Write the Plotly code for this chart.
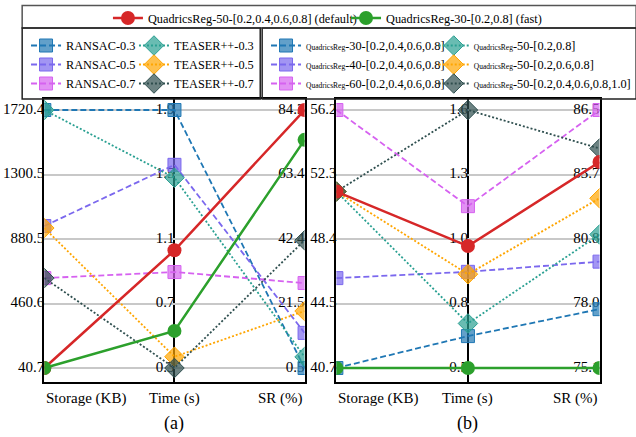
import plotly.graph_objects as go

W, H = 636, 437
FONT = "'Liberation Serif', 'Times New Roman', 'DejaVu Serif', serif"

axis_names = ["Storage (KB)", "Time (s)", "SR (%)"]

# ---- panel (a) tick labels (5 evenly spaced per axis) ----
a_storage_ticks = ["40.7", "460.6", "880.5", "1300.5", "1720.4"]
a_time_ticks = ["0.3", "0.7", "1.1", "1.5", "1.9"]
a_sr_ticks = ["0.5", "21.5", "42.4", "63.4", "84.3"]

# ---- panel (b) tick labels ----
b_storage_ticks = ["40.7", "44.5", "48.4", "52.3", "56.2"]
b_time_ticks = ["0.5", "0.8", "1.0", "1.3", "1.6"]
b_sr_ticks = ["75.1", "78.0", "80.8", "83.7", "86.5"]

# ---- panel (a) series: [Storage, Time, SR] ----
ransac_03 = [1720.4, 1.9, 0.5]
ransac_05 = [965.0, 1.56, 11.9]
ransac_07 = [626.0, 0.895, 28.1]
teaser_03 = [1720.4, 1.48, 4.1]
teaser_05 = [952.0, 0.37, 19.0]
teaser_07 = [626.0, 0.3, 42.0]
qr_default_a = [40.7, 1.03, 84.3]
qr_fast_a = [40.7, 0.53, 74.6]

# ---- panel (b) series ----
qr30 = [40.7, 0.636, 77.7]
qr40 = [46.1, 0.91, 79.8]
qr60 = [56.2, 1.19, 86.5]
qr50_28 = [51.3, 0.69, 81.0]
qr50_268 = [51.3, 0.90, 82.6]
qr50_all = [51.3, 1.6, 84.8]
qr_default_b = [51.3, 1.02, 84.2]
qr_fast_b = [40.7, 0.5, 75.1]

a_ticks = [a_storage_ticks, a_time_ticks, a_sr_ticks]
b_ticks = [b_storage_ticks, b_time_ticks, b_sr_ticks]

BLUE = "31,119,180"
PURPLE = "123,104,238"
MAGENTA = "214,98,240"
TEAL = "42,160,146"
ORANGE = "255,165,0"
SLATE = "47,79,79"
RED = "#d62728"
GREEN = "#2ca02c"

DASH = "6px,3px"
DOT = "2px,2px"


def norm(vals, ticks):
    out = []
    for v, t in zip(vals, ticks):
        lo, hi = float(t[0]), float(t[-1])
        out.append((v - lo) / (hi - lo))
    return out


fig = go.Figure()

# axis tick labels as text (drawn beneath the data marks)
for xa, ya, ticks in [("x", "y", a_ticks), ("x2", "y2", b_ticks)]:
    xs, ys, ts = [], [], []
    for i, tl in enumerate(ticks):
        n = len(tl)
        for j, t in enumerate(tl):
            xs.append(i)
            ys.append(j / (n - 1))
            ts.append(t)
    fig.add_trace(go.Scatter(x=xs, y=ys, text=ts, mode="text", textposition="middle left",
                             textfont=dict(family=FONT, size=15, color="black"),
                             xaxis=xa, yaxis=ya, showlegend=False, cliponaxis=False,
                             hoverinfo="skip"))


def add(vals, ticks, name, rgb, dash, symbol, size, xa, ya, legend, showlegend, rank, width=1.8):
    fig.add_trace(go.Scatter(
        x=[0, 1, 2], y=norm(vals, ticks), mode="lines+markers", name=name,
        line=dict(color=f"rgb({rgb})", width=width, dash=dash),
        marker=dict(symbol=symbol, size=size, color=f"rgba({rgb},0.7)",
                    line=dict(color=f"rgb({rgb})", width=1)),
        xaxis=xa, yaxis=ya, legend=legend, showlegend=showlegend,
        legendrank=rank, cliponaxis=True, hoverinfo="skip"))


def add_solid(vals, ticks, name, color, xa, ya, legend, showlegend):
    fig.add_trace(go.Scatter(
        x=[0, 1, 2], y=norm(vals, ticks), mode="lines+markers", name=name,
        line=dict(color=color, width=2.5),
        marker=dict(symbol="circle", size=14, color=color),
        xaxis=xa, yaxis=ya, legend=legend, showlegend=showlegend,
        cliponaxis=True, hoverinfo="skip"))


# panel (a)
add(ransac_03, a_ticks, "RANSAC-0.3", BLUE, DASH, "square", 13, "x", "y", "legend2", True, 1)
add(ransac_05, a_ticks, "RANSAC-0.5", PURPLE, DASH, "square", 13, "x", "y", "legend2", True, 2)
add(ransac_07, a_ticks, "RANSAC-0.7", MAGENTA, DASH, "square", 13, "x", "y", "legend2", True, 3)
add(teaser_03, a_ticks, "TEASER++-0.3", TEAL, DOT, "diamond", 15, "x", "y", "legend3", True, 1)
add(teaser_05, a_ticks, "TEASER++-0.5", ORANGE, DOT, "diamond", 15, "x", "y", "legend3", True, 2)
add(teaser_07, a_ticks, "TEASER++-0.7", SLATE, DOT, "diamond", 15, "x", "y", "legend3", True, 3)
add_solid(qr_default_a, a_ticks, "QuadricsReg-50-[0.2,0.4,0.6,0.8] (default)", RED, "x", "y", "legend", True)
add_solid(qr_fast_a, a_ticks, "QuadricsReg-30-[0.2,0.8] (fast)", GREEN, "x", "y", "legend6", True)

SMALL = "<span style='font-size:7.5px'>QuadricsReg</span>"
# panel (b)
add(qr30, b_ticks, SMALL + "-30-[0.2,0.4,0.6,0.8]", BLUE, DASH, "square", 13, "x2", "y2", "legend4", True, 1)
add(qr40, b_ticks, SMALL + "-40-[0.2,0.4,0.6,0.8]", PURPLE, DASH, "square", 13, "x2", "y2", "legend4", True, 2)
add(qr60, b_ticks, SMALL + "-60-[0.2,0.4,0.6,0.8]", MAGENTA, DASH, "square", 13, "x2", "y2", "legend4", True, 3)
add(qr50_28, b_ticks, SMALL + "-50-[0.2,0.8]", TEAL, DOT, "diamond", 15, "x2", "y2", "legend5", True, 1)
add(qr50_268, b_ticks, SMALL + "-50-[0.2,0.6,0.8]", ORANGE, DOT, "diamond", 15, "x2", "y2", "legend5", True, 2)
add(qr50_all, b_ticks, SMALL + "-50-[0.2,0.4,0.6,0.8,1.0]", SLATE, DOT, "diamond", 15, "x2", "y2", "legend5", True, 3)
add_solid(qr_default_b, b_ticks, "default", RED, "x2", "y2", "legend", False)
add_solid(qr_fast_b, b_ticks, "fast", GREEN, "x2", "y2", "legend6", False)

# layout geometry (pixels -> paper)
def px(xp):
    return xp / W


def py(yp):
    return 1 - yp / H


PLOT_TOP, PLOT_BOT = 99, 382
Y0, Y1 = 368, 110
span = Y0 - Y1
yrange = [-(PLOT_BOT - Y0) / span, 1 + (Y1 - PLOT_TOP) / span]

xax = dict(range=[0, 2], showline=True, mirror=True, linecolor="black", linewidth=1.5,
           tickvals=[1], showgrid=True, gridcolor="black", gridwidth=1.5,
           showticklabels=False, ticks="", zeroline=False, fixedrange=True)
yax = dict(range=yrange, showline=True, mirror=True, linecolor="black", linewidth=1.5,
           tickvals=[0, 0.25, 0.5, 0.75, 1.0], showgrid=True, gridcolor="#c8c8c8", gridwidth=1.5,
           showticklabels=False, ticks="", zeroline=False, fixedrange=True)

legend_common = dict(font=dict(family=FONT, size=12.3, color="black"), bgcolor="rgba(0,0,0,0)",
                     borderwidth=0, tracegroupgap=0)

fig.update_layout(
    width=W, height=H, margin=dict(l=0, r=0, t=0, b=0),
    paper_bgcolor="white", plot_bgcolor="white",
    font=dict(family=FONT, color="black"),
    xaxis=dict(domain=[px(46), px(316)], anchor="y", **xax),
    yaxis=dict(domain=[py(PLOT_BOT), py(PLOT_TOP)], anchor="x", **yax),
    xaxis2=dict(domain=[px(349), px(622)], anchor="y2", **xax),
    yaxis2=dict(domain=[py(PLOT_BOT), py(PLOT_TOP)], anchor="x2", **yax),
    legend=dict(orientation="v", x=px(112), xanchor="left", y=py(18), yanchor="middle", **legend_common),
    legend6=dict(orientation="v", x=px(359), xanchor="left", y=py(18), yanchor="middle", **legend_common),
    legend2=dict(orientation="v", x=px(27), xanchor="left", y=py(31), yanchor="top", **legend_common),
    legend3=dict(orientation="v", x=px(139), xanchor="left", y=py(31), yanchor="top", **legend_common),
    legend4=dict(orientation="v", x=px(276), xanchor="left", y=py(31), yanchor="top", **legend_common),
    legend5=dict(orientation="v", x=px(450), xanchor="left", y=py(31), yanchor="top", **legend_common),
    showlegend=True,
)

# legend frames
shapes = []
line_k = dict(color="#222222", width=1.5)
shapes.append(dict(type="rect", xref="paper", yref="paper", x0=px(23), x1=px(660), y0=py(28), y1=py(5.5),
                   line=dict(color="#555555", width=1.5)))
shapes.append(dict(type="rect", xref="paper", yref="paper", x0=px(23), x1=px(270), y0=py(99), y1=py(28),
                   line=line_k))
shapes.append(dict(type="rect", xref="paper", yref="paper", x0=px(272), x1=px(660), y0=py(99), y1=py(28),
                   line=line_k))
fig.update_layout(shapes=shapes)

# axis titles and panel captions
ann = []
for xa in ["x", "x2"]:
    for i, name in enumerate(axis_names):
        ann.append(dict(xref=xa, yref="paper", x=i, y=py(398), text=name, showarrow=False,
                        xanchor=["left", "center", "right"][i], yanchor="middle",
                        font=dict(family=FONT, size=15, color="black")))
ann.append(dict(xref="x", yref="paper", x=1, y=py(423), text="(a)", showarrow=False,
                xanchor="center", yanchor="middle", font=dict(family=FONT, size=18, color="black")))
ann.append(dict(xref="x2", yref="paper", x=1, y=py(423), text="(b)", showarrow=False,
                xanchor="center", yanchor="middle", font=dict(family=FONT, size=18, color="black")))
fig.update_layout(annotations=ann)

fig.write_html("out.html", config={"displayModeBar": False},
               post_script="document.body.style.margin='0';document.body.style.padding='0';")
